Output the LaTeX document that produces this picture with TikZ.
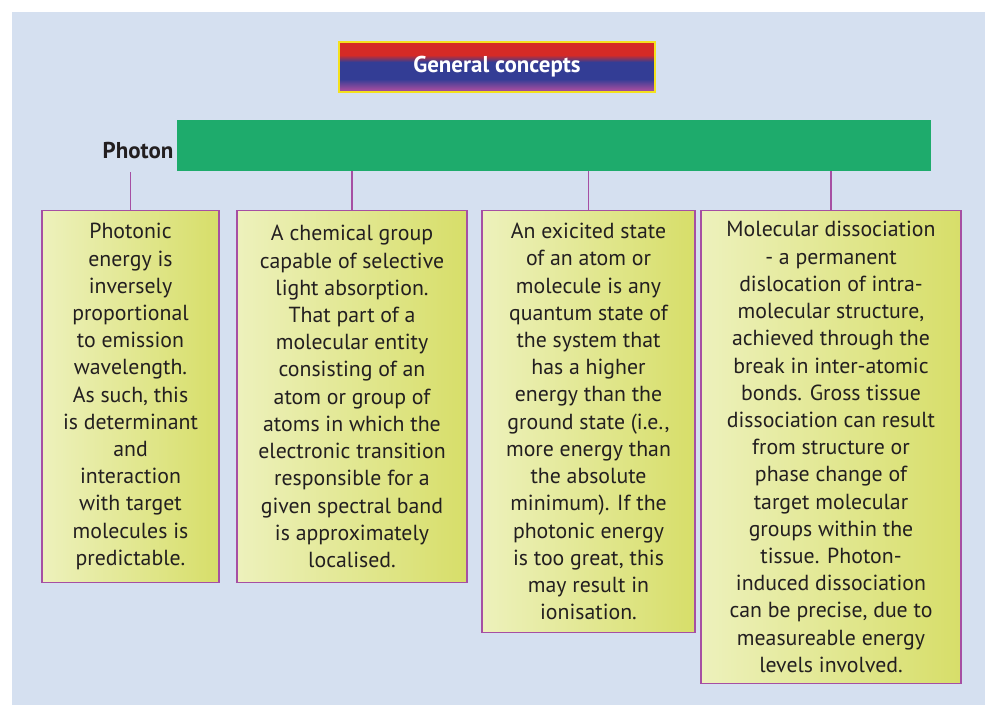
\documentclass[tikz,border=0pt]{standalone}
\usepackage{fontspec}
\setmainfont{PT Sans}
\usetikzlibrary{positioning}
\definecolor{bgBlue}{HTML}{D5E0F0}
\definecolor{barGreen}{HTML}{1EAB6C}
\definecolor{linkPurple}{HTML}{A64FA3}
\definecolor{boxLeft}{HTML}{EDF1BC}
\definecolor{boxRight}{HTML}{D7DE69}
\definecolor{titleRed}{HTML}{D52A26}
\definecolor{titleBlue}{HTML}{333D95}
\definecolor{titlePurple}{HTML}{9B4C9E}
\definecolor{titleRim}{HTML}{F4E11E}
\definecolor{inkGrey}{HTML}{231F20}
\pgfdeclareverticalshading{titlefade}{100bp}{color(0bp)=(titlePurple); color(28bp)=(titlePurple); color(38bp)=(titleBlue); color(55bp)=(titleBlue); color(62bp)=(titleRed); color(100bp)=(titleRed)}
\def\px{0.025cm}
\tikzset{concept/.style = {rectangle, draw=linkPurple, line width=0.8pt, left color=boxLeft, right color=boxRight, text=inkGrey, align=center, inner sep=0pt, anchor=north, font=\fontsize{15.5}{19.35}\selectfont},
        heading/.style = {rectangle, draw=titleRim, line width=2pt, shading=titlefade, text=white, font=\bfseries\fontsize{16.3}{18}\selectfont, minimum width=316*\px, minimum height=50*\px},
        link/.style = {draw=linkPurple, line width=1.4pt}
}

\begin{document}
\begin{tikzpicture}[x=\px, y=-\px]
 \useasboundingbox (0,0) rectangle (985,705);
 \fill[bgBlue] (12,12) rectangle (985,705);

 \node[heading] (title) at (497,67) {General concepts};
 \node[fill=barGreen, minimum width=754*\px, minimum height=51*\px, inner sep=0pt] (bar) at (554,145.5) {};
 \node[anchor=east, text=inkGrey, font=\bfseries\fontsize{16.3}{18}\selectfont, inner sep=1pt] (photon) at (175,151) {Photon};

 \node[concept, minimum width=177*\px, minimum height=372*\px] (b1) at (130.5,210) {Photonic\\ energy is\\ inversely\\ proportional\\ to emission\\ wavelength.\\ As such, this\\ is determinant\\ and\\ interaction\\ with target\\ molecules is\\ predictable.};
 \node[concept, minimum width=230*\px, minimum height=372*\px] (b2) at (352,210) {A chemical group\\ capable of selective\\ light absorption.\\ That part of a\\ molecular entity\\ consisting of an\\ atom or group of\\ atoms in which the\\ electronic transition\\ responsible for a\\ given spectral band\\ is approximately\\ localised.};
 \node[concept, minimum width=213*\px, minimum height=422*\px] (b3) at (588.5,210) {An exicited state\\ of an atom or\\ molecule is any\\ quantum state of\\ the system that\\ has a higher\\ energy than the\\ ground state (i.e.,\\ more energy than\\ the absolute\\ minimum). If the\\ photonic energy\\ is too great, this\\ may result in\\ ionisation.};
 \node[concept, minimum width=260*\px, minimum height=473*\px] (b4) at (831,210) {Molecular dissociation\\ - a permanent\\ dislocation of intra-\\ molecular structure,\\ achieved through the\\ break in inter-atomic\\ bonds. Gross tissue\\ dissociation can result\\ from structure or\\ phase change of\\ target molecular\\ groups within the\\ tissue. Photon-\\ induced dissociation\\ can be precise, due to\\ measureable energy\\ levels involved.};

 % connectors
 \coordinate (p1) at (130.5,172);
 \draw[link] (p1) -- (b1.north);
 \foreach \b in {b2,b3,b4}
  \draw[link] (\b.north |- bar.south) -- (\b.north);
\end{tikzpicture}
\end{document}
